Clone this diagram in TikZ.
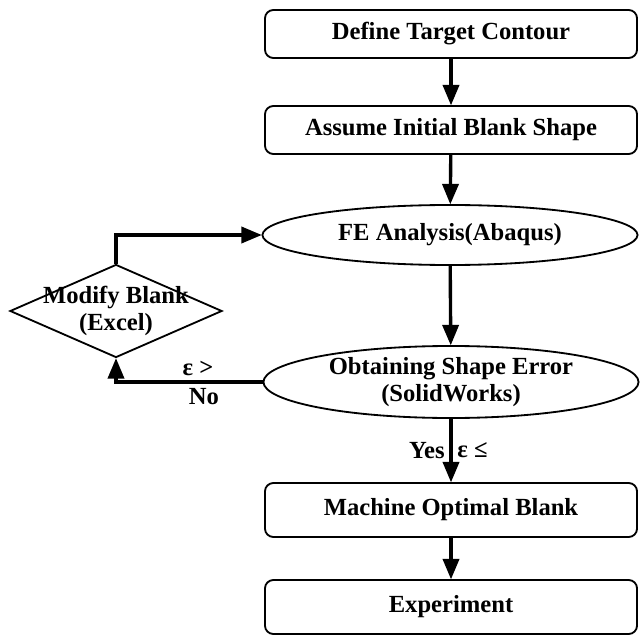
\documentclass[tikz,border=0pt]{standalone}
\usepackage{fontspec}
\setmainfont{Liberation Serif}
\usetikzlibrary{arrows,shapes.geometric,positioning}
\tikzset{
    every node/.append style={font=\bfseries\fontsize{17.5}{19}\selectfont},
    stepbox/.style={draw, line width=1.3pt, rounded corners=6pt, minimum width=9.3cm, minimum height=1.2cm},
    stepoval/.style={draw, ellipse, line width=1.3pt, minimum width=9.375cm, inner sep=0pt, align=center},
    choice/.style={draw, diamond, aspect=2.28, line width=1.3pt, minimum width=5.3cm, minimum height=2.325cm, inner sep=-5pt, align=center},
    flow/.style={-triangle 45, line width=2.4pt}}

\begin{document}
\begin{tikzpicture}[x=0.025cm, y=-0.025cm]
    \useasboundingbox (0,0) rectangle (641,642);
    \node[stepbox] (define) at (451,34) {Define Target Contour};
    \node[stepbox] (assume) at (451,130) {Assume Initial Blank Shape};
    \node[stepoval, minimum height=1.5cm] (fea) at (450,235) {FE Analysis(Abaqus)};
    \node[stepoval, minimum height=1.8cm] (error) at (451,382) {Obtaining Shape Error\\(SolidWorks)};
    \node[choice] (modify) at (116,311) {Modify Blank\\(Excel)};
    \node[stepbox, minimum height=1.35cm] (machine) at (451,510) {Machine Optimal Blank};
    \node[stepbox, minimum height=1.35cm] (exp) at (451,607) {Experiment};

    \path[flow]
    (define) edge (assume)
    (assume) edge (fea)
    (fea) edge (error)
    (error) edge node [left] {Yes} node [right] {ε ≤} (machine)
    (machine) edge (exp);
    % loop back
    \draw[flow] (error.west) -| node [pos=0.22, above] {ε >} node [pos=0.2, below] {No} (modify.south);
    \draw[flow] (modify.north) |- (fea.west);
\end{tikzpicture}
\end{document}
